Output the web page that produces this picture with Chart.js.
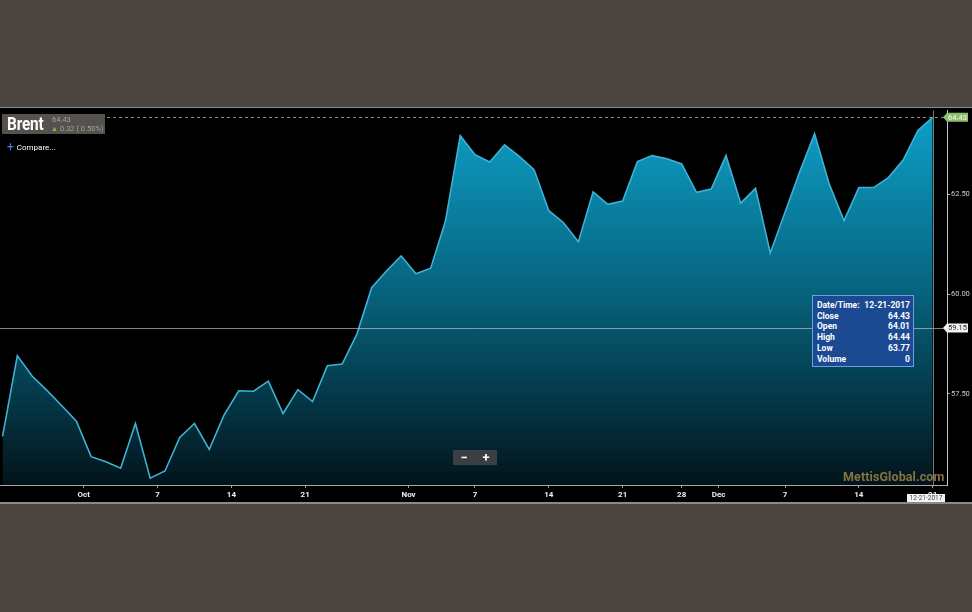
<!DOCTYPE html>
<html>
<head>
<meta charset="utf-8">
<script src="https://cdn.jsdelivr.net/npm/chart.js@4/dist/chart.umd.min.js"></script>
<style>
  html, body { margin: 0; padding: 0; }
  body { width: 972px; height: 612px; background: #4a4540; position: relative; overflow: hidden; font-family: Roboto, "Noto Sans", sans-serif; }
  #panel { position: absolute; left: 0; top: 107px; width: 972px; height: 394px; background: #000; border-top: 1px solid #8c8c8c; border-bottom: 2px solid #8a8a8a; }
  #chartBox { position: absolute; left: 0; top: 104.5px; width: 972px; height: 397.5px; }
  .badge { position: absolute; left: 2px; top: 114px; width: 103px; height: 20px; background: rgba(92,88,83,0.92); }
  .badge .name { position: absolute; left: 5px; top: 0px; font: bold 17.5px Roboto, sans-serif; color: #fff; line-height: 20px; transform: scaleX(0.88); transform-origin: left center; letter-spacing: -0.2px; }
  .badge .px { position: absolute; left: 50px; top: 2px; font-size: 7.5px; color: #a3a3a3; line-height: 8px; }
  .badge .chg { position: absolute; left: 49px; top: 10px; font-size: 7.5px; color: #a3a3a3; line-height: 9px; white-space: nowrap; }
  .badge .chg b { color: #7cc24a; font-size: 7px; margin-right: 2px; }
  .compare { position: absolute; left: 7px; top: 142px; font-size: 8px; color: #fff; line-height: 11px; }
  .compare b { color: #4d7fe0; font-size: 12px; font-weight: normal; margin-right: 3px; vertical-align: -1px; }
  .tip { position: absolute; left: 812px; top: 295px; width: 102px; height: 72px; background: #1b4a93; border: 1px solid #6d9ee2; color: #fff; font-weight: bold; font-size: 8.5px; box-sizing: border-box; padding: 4px 3px 0 4px; }
  .tip .row { display: flex; justify-content: space-between; line-height: 10.7px; }
  .zoomer { position: absolute; left: 453px; top: 450px; width: 44px; height: 15px; background: rgba(72,72,72,0.8); color: #fff; font-size: 13px; line-height: 15px; display: flex; justify-content: space-around; font-weight: bold; }
  .mark { position: absolute; left: 843px; top: 469px; font: bold 12.5px Roboto, sans-serif; color: #857440; letter-spacing: 0.1px; }
</style>
</head>
<body>
<div id="panel"></div>
<div id="chartBox"><canvas id="brentChart" width="972" height="397"></canvas></div>

<div class="badge">
  <span class="name">Brent</span>
  <span class="px">64.43</span>
  <span class="chg"><b>&#9650;</b>0.32 ( 0.50%)</span>
</div>
<div class="compare"><b>+</b>Compare...</div>
<div class="tip" id="tip"></div>
<div class="zoomer"><span>&minus;</span><span>+</span></div>
<div class="mark">MettisGlobal.com</div>

<script>
// Brent daily closes, late Sep - Dec 21 2017
const closes = [
    56.44, 58.46, 57.95, 57.59, 57.21, 56.82, 55.93, 55.80, 55.64, 56.76,
    55.39, 55.57, 56.41, 56.76, 56.11, 56.97, 57.58, 57.57, 57.82, 57.01,
    57.61, 57.31, 58.21, 58.25, 59.00, 60.16, 60.58, 60.96, 60.51, 60.65,
    61.83, 63.97, 63.49, 63.31, 63.74, 63.45, 63.12, 62.09, 61.79, 61.31,
    62.56, 62.25, 62.33, 63.32, 63.47, 63.39, 63.26, 62.55, 62.63, 63.47,
    62.28, 62.65, 61.03, 62.05, 63.07, 64.02, 62.75, 61.84, 62.67, 62.67,
    62.92, 63.36, 64.10, 64.43
];

// x-axis labels sit at these session positions
const tickPositions = [5.5, 10.5, 15.5, 20.5, 27.5, 32, 37, 42, 46, 48.5, 53, 58, 63];
const tickLabels = ["Oct", "7", "14", "21", "Nov", "7", "14", "21", "28", "Dec", "7", "14", "21"];
const priceTicks = [57.5, 60, 62.5];

const lastClose = 64.43;
const crossValue = 59.15;
const crossDate = "12-21-2017";

const tipLabels = ["Close", "Open", "High", "Low", "Volume"];
const tipValues = ["64.43", "64.01", "64.44", "63.77", "0"];

// tooltip text
const tip = document.getElementById("tip");
tip.innerHTML = '<div class="row"><span>Date/Time:</span><span>' + crossDate + '</span></div>' +
    tipLabels.map((l, i) => '<div class="row"><span>' + l + '</span><span>' + tipValues[i] + '</span></div>').join("");

/* ----------------------------------------------------------
   overlay: last price line, crosshair, price/date tags
---------------------------------------------------------- */
function tag(ctx, x, y, text, bg, fg) {
    ctx.save();
    ctx.font = "7.5px Roboto";
    const w = 21, h = 9;
    ctx.fillStyle = bg;
    ctx.beginPath();
    ctx.moveTo(x, y);
    ctx.lineTo(x + 4, y - h / 2);
    ctx.lineTo(x + 4 + w, y - h / 2);
    ctx.lineTo(x + 4 + w, y + h / 2);
    ctx.lineTo(x + 4, y + h / 2);
    ctx.closePath();
    ctx.fill();
    ctx.fillStyle = fg;
    ctx.textAlign = "center";
    ctx.textBaseline = "middle";
    ctx.fillText(text, x + 4 + w / 2, y + 0.5);
    ctx.restore();
}

const overlayPlugin = {
    id: "overlay",
    afterDatasetsDraw(chart) {
        const { ctx, chartArea, scales } = chart;
        const yLast = scales.y.getPixelForValue(lastClose);
        const yCross = scales.y.getPixelForValue(crossValue);
        const xCross = scales.x.getPixelForValue(closes.length - 1);

        ctx.save();
        // dashed last-price line
        ctx.strokeStyle = "#8a8a8a";
        ctx.lineWidth = 1;
        ctx.setLineDash([3, 3]);
        ctx.beginPath();
        ctx.moveTo(107, Math.round(yLast) + 0.5);
        ctx.lineTo(chartArea.right - 3, Math.round(yLast) + 0.5);
        ctx.stroke();
        ctx.setLineDash([]);

        // crosshair
        ctx.strokeStyle = "rgba(200,200,200,0.65)";
        ctx.beginPath();
        ctx.moveTo(0, Math.round(yCross) + 0.5);
        ctx.lineTo(chartArea.right, Math.round(yCross) + 0.5);
        ctx.stroke();
        ctx.strokeStyle = "rgba(150,150,150,0.8)";
        ctx.beginPath();
        ctx.moveTo(Math.round(xCross) + 0.5, chartArea.top);
        ctx.lineTo(Math.round(xCross) + 0.5, chartArea.bottom);
        ctx.stroke();
        ctx.restore();

        tag(ctx, chartArea.right - 4, yLast, lastClose.toFixed(2), "#8dbf6c", "#f4f4f4");
        tag(ctx, chartArea.right - 4, yCross, crossValue.toFixed(2), "#f2f2f2", "#222");
    },
    afterDraw(chart) {
        const { ctx, chartArea } = chart;
        ctx.save();
        ctx.fillStyle = "#f4f4f4";
        ctx.fillRect(chartArea.right - 40, chartArea.bottom + 9, 38, 8);
        ctx.fillStyle = "#444";
        ctx.font = "6.5px Roboto";
        ctx.textAlign = "center";
        ctx.textBaseline = "middle";
        ctx.fillText(crossDate, chartArea.right - 21, chartArea.bottom + 13.5);
        ctx.restore();
    }
};

/* ----------------------------------------------------------
   chart
---------------------------------------------------------- */
const ctx = document.getElementById("brentChart");

new Chart(ctx, {
    type: "line",
    data: {
        datasets: [{
            label: "Brent",
            data: closes.map((v, i) => ({ x: i, y: v })),
            borderColor: "#3eb2d4",
            borderWidth: 1.6,
            pointRadius: 0,
            tension: 0,
            fill: "start",
            backgroundColor: (context) => {
                const area = context.chart.chartArea;
                if (!area) return "rgba(10,140,180,0.6)";
                const g = context.chart.ctx.createLinearGradient(0, area.top, 0, area.bottom);
                g.addColorStop(0, "rgb(14,160,200)");
                g.addColorStop(0.45, "rgb(7,104,132)");
                g.addColorStop(1, "rgb(2,20,28)");
                return g;
            }
        }]
    },
    options: {
        responsive: false,
        animation: false,
        devicePixelRatio: 1,
        layout: { padding: 0 },
        plugins: {
            legend: { display: false },
            tooltip: { enabled: false }
        },
        scales: {
            x: {
                type: "linear",
                min: -0.173,
                max: 63.97,
                afterBuildTicks: (scale) => { scale.ticks = tickPositions.map(v => ({ value: v })); },
                afterFit: (scale) => { scale.height = 17; },
                grid: { drawOnChartArea: false, color: "#a0a0a0", tickLength: 3 },
                border: { color: "#a8a8a8", width: 1 },
                ticks: {
                    color: "#f0f0f0",
                    font: { family: "Roboto", size: 8, weight: "bold" },
                    padding: 2,
                    maxRotation: 0,
                    autoSkip: false,
                    callback: (v) => tickLabels[tickPositions.indexOf(v)]
                }
            },
            y: {
                position: "right",
                min: 55.22,
                max: 64.60,
                afterBuildTicks: (scale) => { scale.ticks = priceTicks.map(v => ({ value: v })); },
                afterFit: (scale) => { scale.width = 25; },
                grid: { drawOnChartArea: false, color: "#b0b0b0", tickLength: 3 },
                border: { color: "#c8c8c8", width: 1 },
                ticks: {
                    color: "#cfcfcf",
                    font: { family: "Roboto", size: 7.5 },
                    padding: 1,
                    callback: (v) => v.toFixed(2)
                }
            }
        }
    },
    plugins: [overlayPlugin]
});
</script>
</body>
</html>
